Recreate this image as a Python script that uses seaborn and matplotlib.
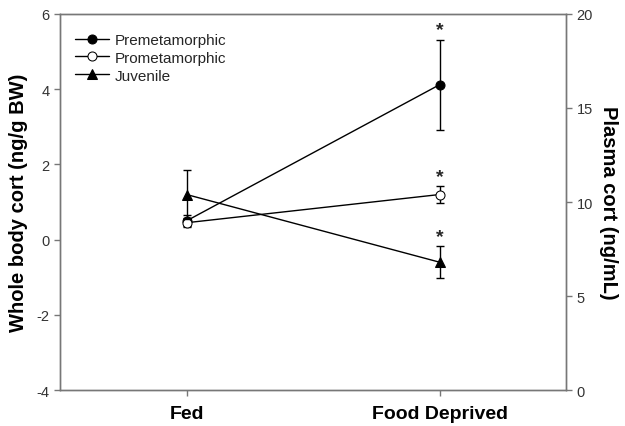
import numpy as np
import pandas as pd
import matplotlib
matplotlib.use("Agg")
import matplotlib.pyplot as plt
import seaborn as sns

# Données
treatments = ["Fed", "Food Deprived"]
premeta_mean = [0.50, 4.12]
premeta_err = [0.15, 1.20]
prometa_mean = [0.45, 1.20]
prometa_err = [0.12, 0.22]
# Juvenile sur l'axe de droite (ng/mL)
juvenile_mean = [10.4, 6.8]
juvenile_err = [1.3, 0.85]
signif = [False, True]

sns.set_style("ticks")
plt.rcParams['font.family'] = ['Liberation Sans', 'DejaVu Sans']
plt.rcParams['axes.unicode_minus'] = False

x = np.arange(len(treatments))
df_left = pd.DataFrame({
    'x': np.concatenate([x, x]),
    'cort': premeta_mean + prometa_mean,
    'stage': ['Premetamorphic'] * 2 + ['Prometamorphic'] * 2,
})
df_right = pd.DataFrame({'x': x, 'cort': juvenile_mean, 'stage': ['Juvenile'] * 2})

fig = plt.figure(figsize=(6.25, 4.27), dpi=100)
ax = fig.add_axes([0.096, 0.084, 0.81, 0.881])
ax2 = ax.twinx()

spine_col = '#777777'

# Erreurs
ax.errorbar(x, premeta_mean, yerr=premeta_err, fmt='none', ecolor='black',
            elinewidth=1, capsize=3, capthick=1, zorder=2)
ax.errorbar(x, prometa_mean, yerr=prometa_err, fmt='none', ecolor='black',
            elinewidth=1, capsize=3, capthick=1, zorder=2)
ax2.errorbar(x, juvenile_mean, yerr=juvenile_err, fmt='none', ecolor='black',
             elinewidth=1, capsize=3, capthick=1, zorder=2)

# Lignes + marqueurs
sns.lineplot(data=df_left[df_left.stage == 'Premetamorphic'], x='x', y='cort', ax=ax,
             color='black', lw=1, marker='o', markersize=6.5, markerfacecolor='black',
             markeredgecolor='black', label='Premetamorphic', zorder=3)
sns.lineplot(data=df_left[df_left.stage == 'Prometamorphic'], x='x', y='cort', ax=ax,
             color='black', lw=1, marker='o', markersize=6.5, markerfacecolor='white',
             markeredgecolor='black', label='Prometamorphic', zorder=3)
sns.lineplot(data=df_right, x='x', y='cort', ax=ax2,
             color='black', lw=1, marker='^', markersize=7, markerfacecolor='black',
             markeredgecolor='black', label='Juvenile', zorder=3)

# Astérisques de significativité
for i, s in enumerate(signif):
    if not s:
        continue
    ax.annotate('*', (x[i], premeta_mean[i] + premeta_err[i]), xytext=(0, 1),
                textcoords='offset points', ha='center', va='bottom',
                fontsize=14, fontweight='bold')
    ax.annotate('*', (x[i], prometa_mean[i] + prometa_err[i]), xytext=(0, 1),
                textcoords='offset points', ha='center', va='bottom',
                fontsize=14, fontweight='bold')
    ax2.annotate('*', (x[i], juvenile_mean[i] + juvenile_err[i]), xytext=(0, 1),
                 textcoords='offset points', ha='center', va='bottom',
                 fontsize=14, fontweight='bold')

ax.set_xlim(-0.5, 1.5)
ax.set_ylim(-4, 6)
ax.set_yticks([-4, -2, 0, 2, 4, 6])
ax2.set_ylim(0, 20)
ax2.set_yticks([0, 5, 10, 15, 20])
ax.set_xticks(x)
ax.set_xticklabels(treatments, fontweight='bold')
ax.set_xlabel('')
ax.set_ylabel('Whole body cort (ng/g BW)', fontsize=14.5, fontweight='bold',
              labelpad=6, color='black')
ax2.set_ylabel('Plasma cort (ng/mL)', fontsize=14.5, fontweight='bold',
               rotation=270, labelpad=18, color='black')

for a in (ax, ax2):
    for sp in a.spines.values():
        sp.set_color(spine_col)
        sp.set_linewidth(1)
    a.tick_params(colors=spine_col, labelcolor='#333333', labelsize=10.5, length=4, width=1)
ax.tick_params(axis='x', labelcolor='black', labelsize=14, pad=7)

# Légende combinée
h1, l1 = ax.get_legend_handles_labels()
h2, l2 = ax2.get_legend_handles_labels()
if ax2.get_legend():
    ax2.get_legend().remove()
ax.legend(h1 + h2, l1 + l2, loc='upper left', frameon=False, fontsize=11,
          handlelength=2.2, handletextpad=0.4, labelspacing=0.25,
          borderaxespad=0.6, bbox_to_anchor=(0.0, 0.99))

fig.savefig('out.png', dpi=100)
